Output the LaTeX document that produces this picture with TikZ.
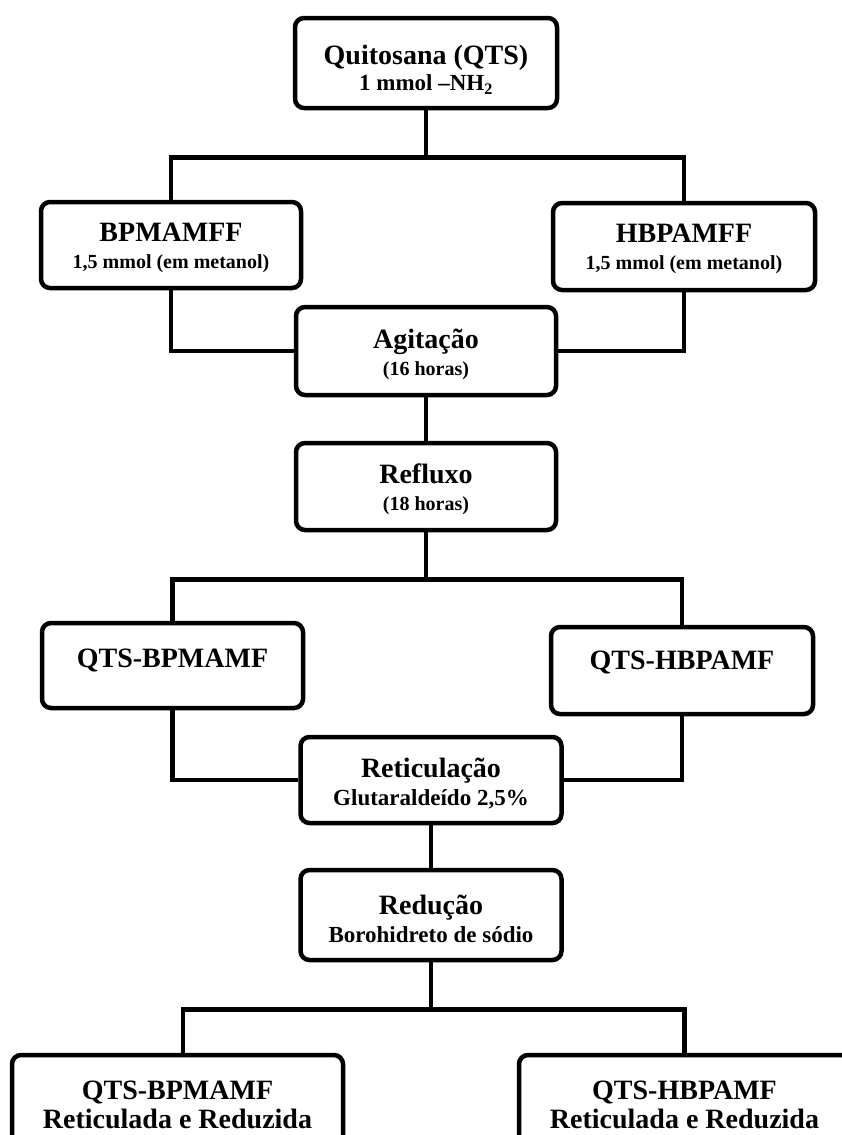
\documentclass[tikz,border=0pt]{standalone}
\usepackage{fontspec}
\setmainfont{Liberation Serif}
\begin{document}
\begin{tikzpicture}[x=1pt,y=-1pt,
  box/.style={draw, line width=4.5pt, rounded corners=9pt, inner sep=0pt, fill=white},
  big/.style={font=\fontsize{28}{30}\selectfont\bfseries, text height=18.5pt, text depth=0pt, inner sep=0pt},
  mid/.style={font=\fontsize{23}{26}\selectfont\bfseries, text height=15.2pt, text depth=0pt, inner sep=0pt},
  sml/.style={font=\fontsize{20}{24}\selectfont\bfseries, text height=13.2pt, text depth=0pt, inner sep=0pt},
  wire/.style={line width=4.5pt}]
\useasboundingbox (0,0) rectangle (842,1135);
\clip (0,0) rectangle (842,1135);
% boxes
\node[box, minimum width=262pt, minimum height=90pt] (qts) at (426,63) {};
\node[box, minimum width=260pt, minimum height=86pt] (bp) at (171,245) {};
\node[box, minimum width=262pt, minimum height=87pt] (hb) at (684,246.5) {};
\node[box, minimum width=260pt, minimum height=88pt] (agit) at (426,351) {};
\node[box, minimum width=260pt, minimum height=87pt] (ref) at (426,486.5) {};
\node[box, minimum width=261pt, minimum height=85pt] (qbp) at (172.5,665.5) {};
\node[box, minimum width=262pt, minimum height=87pt] (qhb) at (682,670.5) {};
\node[box, minimum width=261pt, minimum height=86pt] (ret) at (431,780) {};
\node[box, minimum width=261pt, minimum height=90pt] (red) at (431,915) {};
\node[box, minimum width=331pt, minimum height=110pt] (fbp) at (177.5,1110) {};
\node[box, minimum width=331pt, minimum height=110pt] (fhb) at (684.5,1110) {};
% texts
\node[big] (t1) at (426,55) {Quitosana (QTS)};
\node[mid] (s1) at (426,83) {1 mmol –NH\textsubscript{2}};
\node[big] (t2) at (171,232) {BPMAMFF};
\node[sml] (s2) at (171,262) {1,5 mmol (em metanol)};
\node[big] (t3) at (684,233) {HBPAMFF};
\node[sml] (s3) at (684,263) {1,5 mmol (em metanol)};
\node[big] (t4) at (426,339) {Agitação};
\node[sml] (s4) at (426,369) {(16 horas)};
\node[big] (t5) at (426,474) {Refluxo};
\node[sml] (s5) at (426,504) {(18 horas)};
\node[big] (t6) at (172.5,658) {QTS-BPMAMF};
\node[big] (t7) at (682,660) {QTS-HBPAMF};
\node[big] (t8) at (431,768) {Reticulação};
\node[mid] (s8) at (431,798) {Glutaraldeído 2,5\%};
\node[big] (t9) at (431,905) {Redução};
\node[mid] (s9) at (431,935) {Borohidreto de sódio};
\node[big] (t10) at (177.5,1090) {QTS-BPMAMF};
\node[big] (s10) at (177.5,1119) {Reticulada e Reduzida};
\node[big] (t11) at (684.5,1090) {QTS-HBPAMF};
\node[big] (s11) at (684.5,1119) {Reticulada e Reduzida};
% connectors
\draw[wire] (qts.south) -- ++(0,47) coordinate (j1);
\draw[wire] (j1) -| (bp.north);
\draw[wire] (j1) -| (hb.north);
\draw[wire] (bp.south) |- (agit.west);
\draw[wire] (hb.south) |- (agit.east);
\draw[wire] (agit.south) -- (ref.north);
\draw[wire] (ref.south) -- ++(0,47) coordinate (j2);
\draw[wire] (j2) -| (qbp.north);
\draw[wire] (j2) -| (qhb.north);
\draw[wire] (qbp.south) |- (ret.west);
\draw[wire] (qhb.south) |- (ret.east);
\draw[wire] (ret.south) -- (red.north);
\draw[wire] (red.south) -- ++(0,47) coordinate (j3);
\draw[wire] (j3) -| ([xshift=5.5pt]fbp.north);
\draw[wire] (j3) -| (fhb.north);
\end{tikzpicture}
\end{document}
